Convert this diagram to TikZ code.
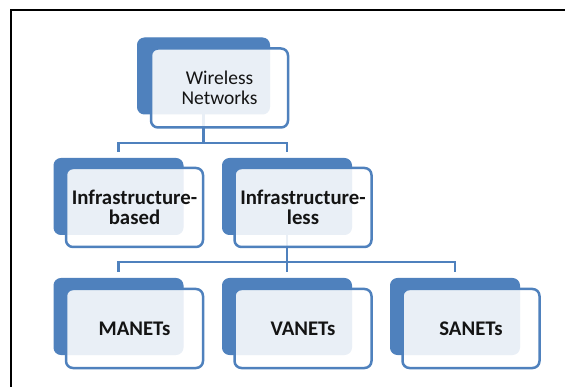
\documentclass[tikz,border=0pt]{standalone}
\usepackage{fontspec}
\setmainfont{Carlito}
\usetikzlibrary{calc}
\begin{document}
\begin{tikzpicture}[x=1pt,y=-1pt,
  every node/.style={inner sep=0pt},
  backbox/.style={rectangle, rounded corners=7pt, fill=offblue, draw=offblue,
    line width=1pt, minimum width=129pt, minimum height=76pt},
  frontbox/.style={rectangle, rounded corners=7pt, fill=white, fill opacity=0.88,
    text opacity=1, draw=offblue, draw opacity=1, line width=2.5pt,
    minimum width=137pt, minimum height=79pt, align=center,
    font=\fontsize{20.8}{20.5}\selectfont\bfseries, text=txt},
  conn/.style={draw=offblue, line width=2.5pt},
]
\definecolor{offblue}{HTML}{4F81BD}
\definecolor{txt}{HTML}{141414}
\useasboundingbox (0,0) rectangle (565,387);

% outer frame
\draw[line width=1.5pt, black] (11,390) -- (11,10) -- (570,10);

% centres of the back plates
\coordinate (wnC) at (203.5,76);
\coordinate (ibC) at (118.5,196.5);
\coordinate (ilC) at (287,196.5);
\coordinate (maC) at (118.5,316.5);
\coordinate (vaC) at (287,316.5);
\coordinate (saC) at (455,316.5);

% connector junctions
\coordinate (j1) at (203.5,143);
\coordinate (j2) at (287,262);

% back plates
\node[backbox, minimum width=132pt] (wnB) at (wnC) {};
\node[backbox] (ibB) at (ibC) {};
\node[backbox] (ilB) at (ilC) {};
\node[backbox] (maB) at (maC) {};
\node[backbox] (vaB) at (vaC) {};
\node[backbox] (saB) at (saC) {};

% connectors (drawn beneath the front cards)
\draw[conn] (wnB.south) -- (j1);
\draw[conn, shorten >=6pt] (j1) -| (ibB.north);
\draw[conn, shorten >=6pt] (j1) -| (ilB.north);
\draw[conn] (ilB.south) -- (j2);
\draw[conn, shorten >=6pt] (j2) -| (maB.north);
\draw[conn, shorten >=6pt] (j2) -- (vaB.north);
\draw[conn, shorten >=6pt] (j2) -| (saB.north);

% front cards with labels
\node[frontbox, font=\fontsize{19.5}{19.5}\selectfont] (wn) at ($(wnC)+(16,12)$) {Wireless\\Networks};
\node[frontbox] (ib) at ($(ibC)+(16,11)$) {Infrastructure-\\based};
\node[frontbox] (il) at ($(ilC)+(16,11)$) {Infrastructure-\\less};
\node[frontbox] (ma) at ($(maC)+(16,12)$) {MANETs};
\node[frontbox] (va) at ($(vaC)+(16,12)$) {VANETs};
\node[frontbox] (sa) at ($(saC)+(16,12)$) {SANETs};
\end{tikzpicture}
\end{document}
